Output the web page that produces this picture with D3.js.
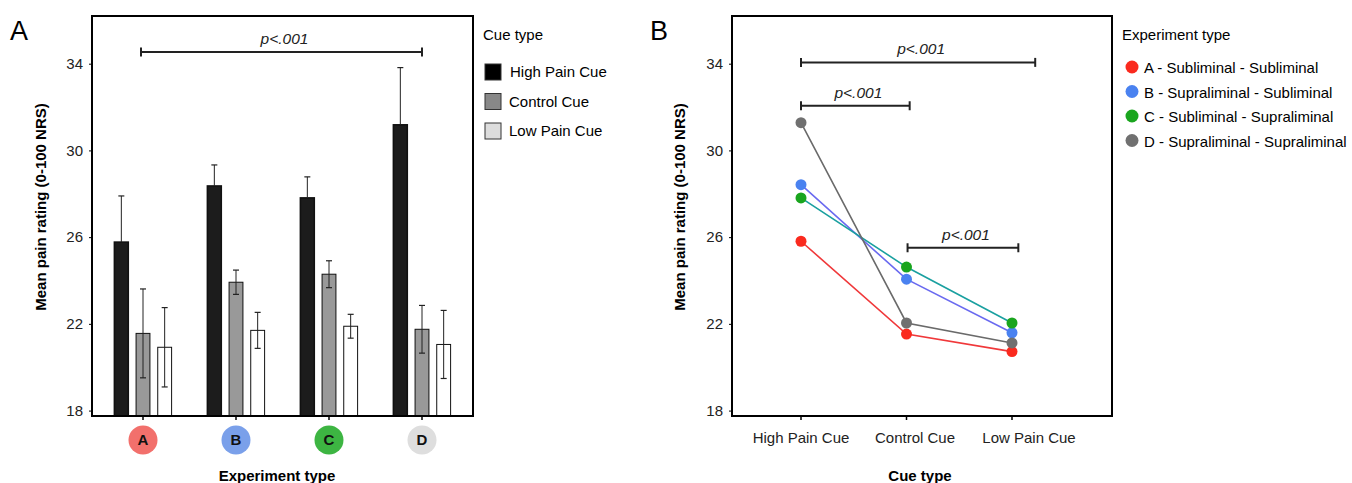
<!DOCTYPE html>
<html lang="en">
<head>
  <meta charset="UTF-8">
  <title>Mean pain rating by cue and experiment type</title>
  <script src="https://d3js.org/d3.v7.min.js"></script>
  <style>
    body { margin: 0; background: #fff; }
    text { font-family: "Liberation Sans", Arial, Helvetica, sans-serif; }
  </style>
</head>
<body>
  <svg width="1352" height="483" id="main"></svg>
<script>
  // data
  const experiments = ['A', 'B', 'C', 'D'];
  const cues = ['High Pain Cue', 'Control Cue', 'Low Pain Cue'];
  const expNames = [
    'A - Subliminal - Subliminal',
    'B - Supraliminal - Subliminal',
    'C - Subliminal - Supraliminal',
    'D - Supraliminal - Supraliminal',
  ];
  const yTicks = [18, 22, 26, 30, 34];

  // panel A: bar means and error (per experiment, per cue)
  const barMeans = [
    [25.77, 21.56, 20.92],
    [28.36, 23.92, 21.70],
    [27.81, 24.29, 21.89],
    [31.18, 21.75, 21.05],
  ];
  const barErrors = [
    [2.13, 2.05, 1.83],
    [0.97, 0.56, 0.83],
    [0.97, 0.62, 0.55],
    [2.64, 1.10, 1.57],
  ];
  // panel B: line means (per experiment, per cue)
  const lineMeans = [
    [25.81, 21.53, 20.72],
    [28.42, 24.06, 21.59],
    [27.81, 24.62, 22.04],
    [31.28, 22.04, 21.12],
  ];
  const sigA = [{ from: 0, to: 3, y: 34.54, label: 'p<.001' }];
  const sigB = [
    { from: 0, to: 2.22, y: 34.06, label: 'p<.001' },
    { from: 0, to: 1.03, y: 32.06, label: 'p<.001' },
    { from: 1.01, to: 2.06, y: 25.51, label: 'p<.001' },
  ];

  // colours
  const barFill = ['#1c1c1c', '#999999', '#ffffff'];
  const legendFill = ['#000000', '#888888', '#dddddd'];
  const badgeFill = ['#f2706c', '#7aa0ea', '#3db542', '#dedede'];
  const pointFill = ['#fa2a1e', '#4a82f0', '#1aa51e', '#707070'];
  const lineStroke = ['#f0383a', '#6a6af0', '#1aa0a0', '#6a6a6a'];

  const svg = d3.select('#main');
  const plotTop = 16, plotBottom = 416;
  const y = d3.scaleLinear().domain([17.75, 36.2]).range([plotBottom, plotTop]);

  // ---------- panel A ----------
  const gA = svg.append('g');
  const leftA = 92, rightA = 473;
  const xA = d3.scalePoint().domain(experiments).range([143, 422]);
  const xIn = d3.scaleBand().domain(cues).range([-32.5, 32.5]).paddingInner(0.36).paddingOuter(0.18);
  const xAi = d3.scaleLinear().domain([0, 3]).range([141, 422]);

  drawYAxis(gA, leftA);

  const groups = gA.selectAll('g.grp')
    .data(experiments)
    .enter().append('g')
    .attr('class', 'grp')
    .attr('transform', d => `translate(${xA(d)},0)`);

  groups.each(function (exp, ei) {
    const g = d3.select(this);
    const rows = cues.map((c, ci) => ({ cue: c, ci: ci, v: barMeans[ei][ci], e: barErrors[ei][ci] }));
    g.selectAll('rect.bar')
      .data(rows)
      .enter().append('rect')
      .attr('x', d => xIn(d.cue))
      .attr('width', xIn.bandwidth())
      .attr('y', d => y(d.v))
      .attr('height', d => plotBottom - y(d.v))
      .attr('fill', d => barFill[d.ci])
      .attr('stroke', '#111')
      .attr('stroke-width', d => d.ci === 0 ? 1.6 : 1);
    // error bars (only the upper half on the black bars)
    g.selectAll('line.err')
      .data(rows)
      .enter().append('line')
      .attr('x1', d => xIn(d.cue) + xIn.bandwidth() / 2)
      .attr('x2', d => xIn(d.cue) + xIn.bandwidth() / 2)
      .attr('y1', d => d.ci === 0 ? y(d.v) : y(d.v - d.e))
      .attr('y2', d => y(d.v + d.e))
      .attr('stroke', '#222').attr('stroke-width', 1);
    ['up', 'down'].forEach(side => {
      g.selectAll('line.cap-' + side)
        .data(side === 'down' ? rows.filter(r => r.ci > 0) : rows)
        .enter().append('line')
        .attr('x1', d => xIn(d.cue) + xIn.bandwidth() / 2 - 3)
        .attr('x2', d => xIn(d.cue) + xIn.bandwidth() / 2 + 3)
        .attr('y1', d => y(side === 'up' ? d.v + d.e : d.v - d.e))
        .attr('y2', d => y(side === 'up' ? d.v + d.e : d.v - d.e))
        .attr('stroke', '#222').attr('stroke-width', 1.2);
    });
  });

  // x ticks + badges
  gA.selectAll('line.xt')
    .data(experiments)
    .enter().append('line')
    .attr('x1', d => xA(d)).attr('x2', d => xA(d))
    .attr('y1', plotBottom).attr('y2', plotBottom + 4)
    .attr('stroke', '#000').attr('stroke-width', 1.5);
  const badges = gA.selectAll('g.badge')
    .data(experiments)
    .enter().append('g')
    .attr('transform', d => `translate(${xA(d)},440)`);
  badges.append('circle').attr('r', 14.5).attr('fill', (d, i) => badgeFill[i]);
  badges.append('text').text(d => d)
    .attr('text-anchor', 'middle').attr('dy', '0.36em')
    .attr('font-size', 15).attr('font-weight', 'bold').attr('fill', '#111');

  frame(gA, leftA, rightA);
  drawSig(gA, sigA, xAi);

  gA.append('text').text('Experiment type')
    .attr('x', 277).attr('y', 481)
    .attr('text-anchor', 'middle').attr('font-size', 15).attr('font-weight', 'bold');
  yLabel(gA, 46);
  gA.append('text').text('A').attr('x', 10).attr('y', 40).attr('font-size', 27);

  // legend A
  const legA = gA.append('g').attr('transform', 'translate(483,0)');
  legA.append('text').text('Cue type').attr('x', 0).attr('y', 40).attr('font-size', 15);
  const legARows = legA.selectAll('g.row')
    .data(cues)
    .enter().append('g')
    .attr('transform', (d, i) => `translate(0,${72 + i * 29.5})`);
  legARows.append('rect')
    .attr('x', 2).attr('y', -8).attr('width', 16).attr('height', 16)
    .attr('fill', (d, i) => legendFill[i]).attr('stroke', '#333').attr('stroke-width', 1);
  legARows.append('text').text(d => d)
    .attr('x', d => d === 'High Pain Cue' ? 27 : 26).attr('dy', '0.36em').attr('font-size', 15);

  // ---------- panel B ----------
  const gB = svg.append('g');
  const leftB = 732, rightB = 1112;
  const xB = d3.scalePoint().domain(cues).range([801, 1012]);
  const xBi = d3.scaleLinear().domain([0, 2]).range([801, 1012]);
  const xLab = d3.scalePoint().domain(cues).range([801, 1029]);

  drawYAxis(gB, leftB);

  const line = d3.line().x((d, i) => xB(cues[i])).y(d => y(d));
  gB.selectAll('path.series')
    .data(lineMeans)
    .enter().append('path')
    .attr('d', d => line(d))
    .attr('fill', 'none')
    .attr('stroke', (d, i) => lineStroke[i])
    .attr('stroke-width', 1.6);
  lineMeans.forEach((vals, ei) => {
    gB.selectAll('circle.p' + ei)
      .data(vals)
      .enter().append('circle')
      .attr('class', 'p' + ei)
      .attr('cx', (d, i) => xB(cues[i]))
      .attr('cy', d => y(d))
      .attr('r', 5.5)
      .attr('fill', pointFill[ei]);
  });

  gB.selectAll('line.xt')
    .data(cues)
    .enter().append('line')
    .attr('x1', d => xB(d)).attr('x2', d => xB(d))
    .attr('y1', plotBottom).attr('y2', plotBottom + 4)
    .attr('stroke', '#000').attr('stroke-width', 1.5);
  gB.selectAll('text.xl')
    .data(cues)
    .enter().append('text')
    .text(d => d)
    .attr('x', d => xLab(d)).attr('y', 443)
    .attr('text-anchor', 'middle').attr('font-size', 15).attr('fill', '#222');

  frame(gB, leftB, rightB);
  drawSig(gB, sigB, xBi);

  gB.append('text').text('Cue type')
    .attr('x', 920).attr('y', 481)
    .attr('text-anchor', 'middle').attr('font-size', 15).attr('font-weight', 'bold');
  yLabel(gB, 685);
  gB.append('text').text('B').attr('x', 650).attr('y', 40).attr('font-size', 27);

  // legend B
  const legB = gB.append('g').attr('transform', 'translate(1122,0)');
  legB.append('text').text('Experiment type').attr('x', 0).attr('y', 40).attr('font-size', 15);
  const legBRows = legB.selectAll('g.row')
    .data(expNames)
    .enter().append('g')
    .attr('transform', (d, i) => `translate(0,${68 + i * 24.5})`);
  legBRows.append('circle').attr('cx', 10).attr('cy', -1).attr('r', 6.5)
    .attr('fill', (d, i) => pointFill[i]);
  legBRows.append('text').text(d => d)
    .attr('x', 22).attr('dy', '0.36em').attr('font-size', 15);

  // ---------- helpers ----------
  function drawYAxis(g, left) {
    const ax = g.append('g')
      .attr('transform', `translate(${left},0)`)
      .call(d3.axisLeft(y).tickValues(yTicks).tickSize(3).tickPadding(6));
    ax.select('.domain').remove();
    ax.selectAll('text').attr('font-size', 15).attr('fill', '#222')
      .style('font-family', '"Liberation Sans", Arial, sans-serif');
  }

  function frame(g, l, r) {
    g.append('rect')
      .attr('x', l).attr('y', plotTop)
      .attr('width', r - l).attr('height', plotBottom - plotTop)
      .attr('fill', 'none').attr('stroke', '#000').attr('stroke-width', 2);
  }

  function yLabel(g, x) {
    g.append('text').text('Mean pain rating (0-100 NRS)')
      .attr('transform', `translate(${x},207) rotate(-90)`)
      .attr('text-anchor', 'middle').attr('font-size', 15).attr('font-weight', 'bold');
  }

  function drawSig(g, data, xs) {
    const s = g.selectAll('g.sig')
      .data(data)
      .enter().append('g');
    s.append('line')
      .attr('x1', d => xs(d.from)).attr('x2', d => xs(d.to))
      .attr('y1', d => y(d.y)).attr('y2', d => y(d.y))
      .attr('stroke', '#222').attr('stroke-width', 2);
    s.append('line')
      .attr('x1', d => xs(d.from)).attr('x2', d => xs(d.from))
      .attr('y1', d => y(d.y) - 4.5).attr('y2', d => y(d.y) + 4.5)
      .attr('stroke', '#222').attr('stroke-width', 2);
    s.append('line')
      .attr('x1', d => xs(d.to)).attr('x2', d => xs(d.to))
      .attr('y1', d => y(d.y) - 4.5).attr('y2', d => y(d.y) + 4.5)
      .attr('stroke', '#222').attr('stroke-width', 2);
    s.append('text').text(d => d.label)
      .attr('x', d => (xs(d.from) + xs(d.to)) / 2 + 3)
      .attr('y', d => y(d.y) - 8)
      .attr('text-anchor', 'middle').attr('font-size', 15.5)
      .attr('font-style', 'italic').attr('fill', '#222');
  }
</script>
</body>
</html>
